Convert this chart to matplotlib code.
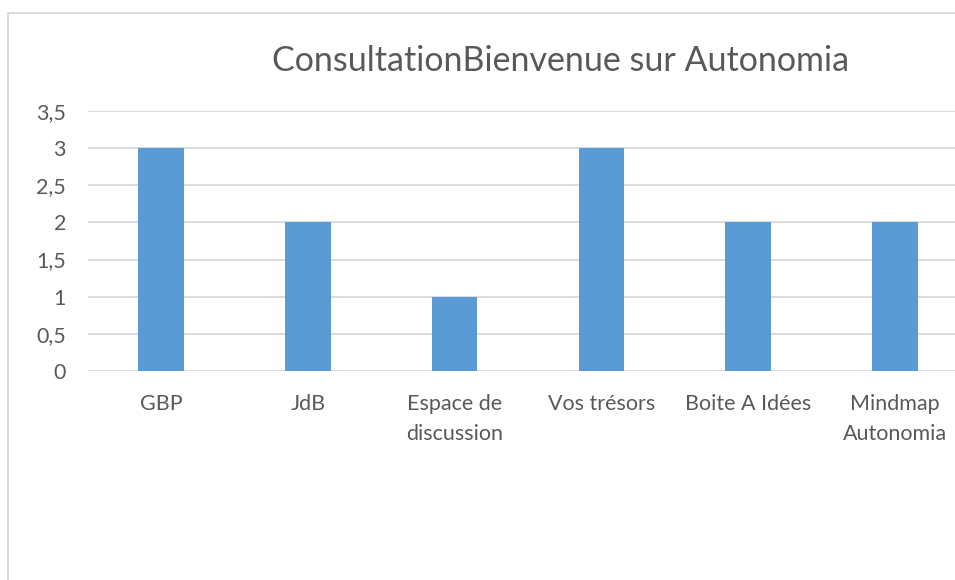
import matplotlib
matplotlib.use("Agg")
import matplotlib.pyplot as plt
from matplotlib.lines import Line2D
from matplotlib.ticker import FuncFormatter

categories = ["GBP", "JdB", "Espace de\ndiscussion", "Vos trésors", "Boite A Idées", "Mindmap\nAutonomia"]
values = [3, 2, 1, 3, 2, 2]
yticks = [0, 0.5, 1, 1.5, 2, 2.5, 3, 3.5]
title = "ConsultationBienvenue sur Autonomia"

W, H = 955, 580
fig = plt.figure(figsize=(W / 100, H / 100), dpi=100)
fig.patch.set_facecolor("white")

font = "Lato"
txt = "#595959"
grid = "#D9D9D9"

# chart border (partially cropped)
fig.add_artist(Line2D([7.5 / W, 7.5 / W], [0, 1 - 13 / H], transform=fig.transFigure, color=grid, lw=1.3))
fig.add_artist(Line2D([7.5 / W, 1.0], [1 - 13 / H, 1 - 13 / H], transform=fig.transFigure, color=grid, lw=1.3))

left = 87.6 / W
right = 968.4 / W
bottom = (H - 371) / H
top = (H - 111) / H
ax = fig.add_axes([left, bottom, right - left, top - bottom])
ax.set_clip_on(False)

x = list(range(len(categories)))
ax.bar(x, values, width=0.31, color="#5B9BD5", zorder=3)
ax.set_xlim(-0.5, len(categories) - 0.5)
ax.set_ylim(0, 3.5)
ax.set_yticks(yticks)
ax.yaxis.set_major_formatter(FuncFormatter(lambda v, p: ("%g" % v).replace(".", ",")))
ax.set_xticks(x)
ax.set_xticklabels(categories, linespacing=1.6)
for s in ax.spines.values():
    s.set_visible(False)
ax.grid(axis="y", color=grid, lw=1.3, zorder=0)
ax.set_axisbelow(True)
ax.tick_params(axis="both", length=0, colors=txt, labelsize=15.5)
ax.tick_params(axis="y", pad=15.5)
ax.tick_params(axis="x", pad=16.5)
for lab in ax.get_xticklabels() + ax.get_yticklabels():
    lab.set_family(font)
    lab.set_color(txt)

fig.text(561 / W, 1 - 61 / H, title, ha="center", va="center", fontsize=24.5, color=txt, family=font)

fig.savefig("out.png", dpi=100)
